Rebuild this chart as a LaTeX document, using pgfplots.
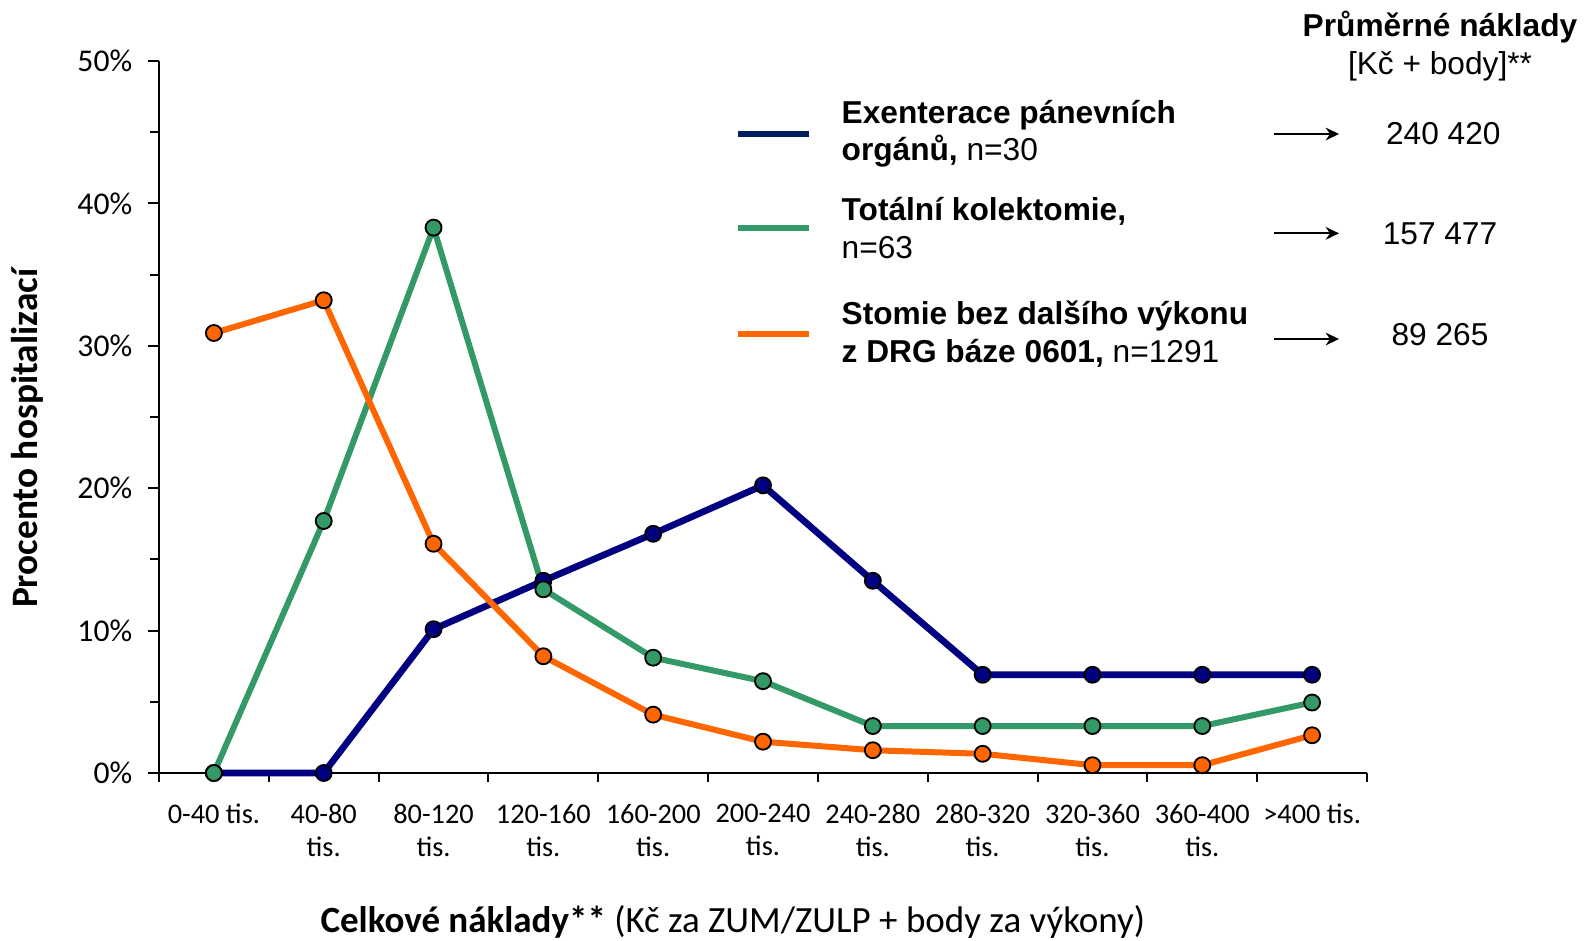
\documentclass[border=0pt]{standalone}
\usepackage{pgfplots}
\pgfplotsset{compat=1.18}
\usepackage{fontspec}
\setmainfont{Carlito}
\newfontfamily\arialf{Liberation Sans}
\usetikzlibrary{arrows.meta}
\definecolor{cnavy}{RGB}{0,0,128}
\definecolor{lnavy}{RGB}{0,32,96}
\definecolor{cgreen}{RGB}{51,153,102}
\definecolor{corange}{RGB}{255,102,0}
\begin{document}
\begin{tikzpicture}
\useasboundingbox (-47.7pt,-50.1pt) rectangle (427.8pt,231.9pt);
\begin{axis}[
  at={(0pt,0pt)}, anchor=south west,
  width=362.4pt, height=213.6pt, scale only axis,
  xmin=-0.5, xmax=10.5, ymin=0, ymax=50,
  clip=false,
  axis x line*=bottom, axis y line*=left,
  axis line style={line width=0.7pt, black},
  tick align=outside,
  tick style={black, line width=0.6pt},
  major tick length=3.3pt,
  minor tick length=2.6pt,
  xtick={0,...,10},
  xticklabels={{0-40 tis.},{40-80\\tis.},{80-120\\tis.},{120-160\\tis.},{160-200\\tis.},{200-240\\tis.},{240-280\\tis.},{280-320\\tis.},{320-360\\tis.},{360-400\\tis.},{>400 tis.}},
  major x tick style={draw=none},
  minor xtick={-0.5,0.5,...,10.5},
  xticklabel style={align=center, anchor=north, font=\fontsize{8.5}{10}\selectfont, yshift=-2.5pt},
  ytick={0,10,...,50},
  minor ytick={5,15,...,45},
  yticklabel={\pgfmathprintnumber{\tick}\%},
  yticklabel style={font=\fontsize{9.5}{11}\selectfont, xshift=-1.2pt},
  /pgf/number format/assume math mode=true,
  xlabel={\textbf{Celkové náklady**} (Kč za ZUM/ZULP + body za výkony)},
  xlabel style={at={(axis description cs:0.475,0)}, anchor=center, yshift=-44.7pt, font=\fontsize{11.1}{13}\selectfont},
  ylabel={Procento hospitalizací},
  ylabel style={at={(axis description cs:-0.109,0.47)}, anchor=center, font=\bfseries\fontsize{11.2}{13}\selectfont},
]
\addplot[cnavy, line width=2.0pt, mark=*, mark size=2.4pt, mark options={fill=cnavy, draw=black, line width=0.55pt}]
  coordinates {(0,0)(1,0)(2,10.1)(3,13.5)(4,16.8)(5,20.2)(6,13.5)(7,6.9)(8,6.9)(9,6.9)(10,6.9)};
\addplot[cgreen, line width=1.8pt, mark=*, mark size=2.4pt, mark options={fill=cgreen, draw=black, line width=0.55pt}]
  coordinates {(0,0)(1,17.7)(2,38.3)(3,12.9)(4,8.1)(5,6.45)(6,3.3)(7,3.3)(8,3.3)(9,3.3)(10,4.95)};
\addplot[corange, line width=1.8pt, mark=*, mark size=2.4pt, mark options={fill=corange, draw=black, line width=0.55pt}]
  coordinates {(0,30.9)(1,33.2)(2,16.1)(3,8.2)(4,4.1)(5,2.2)(6,1.6)(7,1.35)(8,0.55)(9,0.55)(10,2.65)};
\end{axis}
% legend
\draw[lnavy, line width=1.9pt] (173.7pt,191.7pt) -- (195pt,191.7pt);
\draw[cgreen, line width=1.9pt] (173.7pt,163.5pt) -- (195pt,163.5pt);
\draw[corange, line width=1.9pt] (173.7pt,131.7pt) -- (195pt,131.7pt);
\begin{scope}[every node/.style={font=\arialf\fontsize{9.5}{11.2}\selectfont, inner sep=0pt}]
\node[anchor=west, align=left] at (204.6pt,191.7pt) {\textbf{Exenterace pánevních}\\\textbf{orgánů,} n=30};
\node[anchor=west, align=left] at (204.6pt,163.5pt) {\textbf{Totální kolektomie,}\\n=63};
\node[anchor=west, align=left] at (204.6pt,131.7pt) {\textbf{Stomie bez dalšího výkonu}\\\textbf{z DRG báze 0601,} n=1291};
\node at (385.3pt,191.7pt) {240 420};
\node at (384.3pt,161.9pt) {157 477};
\node at (384.3pt,131.5pt) {89 265};
\node[font=\arialf\bfseries\fontsize{9.5}{11}\selectfont] at (384.3pt,223.7pt) {Průměrné náklady};
\node at (384.3pt,211.9pt) {[Kč + body]**};
\end{scope}
\draw[line width=0.6pt, -{Stealth[length=4pt,width=3.8pt]}] (334.5pt,191.7pt) -- (354pt,191.7pt);
\draw[line width=0.6pt, -{Stealth[length=4pt,width=3.8pt]}] (334.5pt,161.9pt) -- (354pt,161.9pt);
\draw[line width=0.6pt, -{Stealth[length=4pt,width=3.8pt]}] (334.5pt,130.2pt) -- (354pt,130.2pt);
\end{tikzpicture}
\end{document}
